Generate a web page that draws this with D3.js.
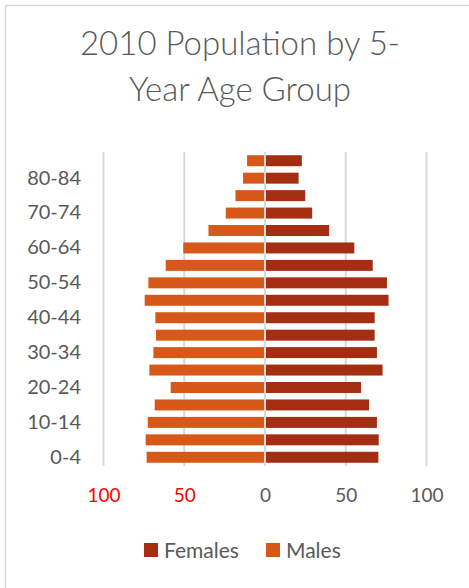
<!DOCTYPE html>
<html><head><meta charset="utf-8">
<script src="https://cdn.jsdelivr.net/npm/d3@7"></script>
<style>
html,body{margin:0;padding:0;background:#fff;}
svg{display:block;font-family:Lato,"Open Sans",sans-serif;}
</style></head>
<body>
<svg id="chart" width="469" height="588"></svg>
<script>
const ageGroups = ["0-4","5-9","10-14","15-19","20-24","25-29","30-34","35-39","40-44","45-49","50-54","55-59","60-64","65-69","70-74","75-79","80-84","85+"];
const males   = [73.3,73.9,72.6,68.3,58.4,71.6,69.1,67.5,67.9,74.5,72.2,61.5,50.6,35.0,24.3,18.3,13.6,11.1];
const females = [70.2,70.4,69.3,64.4,59.5,72.8,69.3,67.9,67.9,76.5,75.5,66.7,55.3,39.7,29.2,24.9,20.8,22.8];
const xTicks = [-100,-50,0,50,100];
const seriesNames = ["Females","Males"];
const colors = {Females:"#A32E12", Males:"#D6591A"};
const titleLines = ["2010 Population by 5-","Year Age Group"];

const svg = d3.select("#chart");
// chart frame
svg.append("rect").attr("x",5.5).attr("y",5.5).attr("width",480).attr("height",600)
  .attr("fill","none").attr("stroke","#d9d9d9").attr("stroke-width",1.5);

// title
const title = svg.append("text").attr("text-anchor","middle").attr("fill","#595959")
  .style("font-size","33px").style("font-weight",300);
titleLines.forEach((t,i)=>title.append("tspan").attr("x",240).attr("y",55+i*46).text(t));

const x = d3.scaleLinear().domain([-100,100]).range([103.5,426.5]);
const y = d3.scaleBand().domain(ageGroups.slice().reverse()).range([152,466])
  .paddingInner(0.37).paddingOuter(0.185);

// gridlines
svg.append("g").selectAll("line").data(xTicks).join("line")
  .attr("x1",d=>x(d)).attr("x2",d=>x(d)).attr("y1",152).attr("y2",466)
  .attr("stroke","#d9d9d9").attr("stroke-width",2);

// bars
svg.append("g").selectAll("rect").data(ageGroups).join("rect")
  .attr("x",(d,i)=>x(-males[i])).attr("width",(d,i)=>x(0)-x(-males[i])-1)
  .attr("y",d=>y(d)).attr("height",y.bandwidth()).attr("fill",colors.Males);
svg.append("g").selectAll("rect").data(ageGroups).join("rect")
  .attr("x",x(0)+1).attr("width",(d,i)=>x(females[i])-x(0)-1)
  .attr("y",d=>y(d)).attr("height",y.bandwidth()).attr("fill",colors.Females);

// y axis
const yAxis = d3.axisLeft(y).tickSize(0).tickPadding(0)
  .tickFormat(d=>ageGroups.indexOf(d)%2===0?d:"");
const ya = svg.append("g").attr("transform","translate(81,0)").call(yAxis);
ya.select(".domain").remove();
ya.selectAll("text").attr("fill","#595959").style("font-size","20px").style("font-weight",400)
  .style("font-family","Lato,'Open Sans',sans-serif");

// x axis
const xAxis = d3.axisBottom(x).tickValues(xTicks).tickSize(0).tickPadding(0).tickFormat(d=>Math.abs(d));
const xa = svg.append("g").attr("transform","translate(0,488)").call(xAxis);
xa.select(".domain").remove();
xa.selectAll("text").attr("fill",d=>d<0?"#FF0000":"#595959").style("font-size","19px").style("font-weight",400)
  .style("font-family","Lato,'Open Sans',sans-serif");

// legend
const legendItems = [{name:"Females",x:144},{name:"Males",x:266}];
const lg = svg.append("g");
legendItems.forEach(it=>{
  lg.append("rect").attr("x",it.x).attr("y",543).attr("width",14).attr("height",14).attr("fill",colors[it.name]);
  lg.append("text").attr("x",it.x+20).attr("y",558).attr("fill","#595959").style("font-weight",400)
    .style("font-size","21px").text(it.name);
});
</script>
</body></html>
